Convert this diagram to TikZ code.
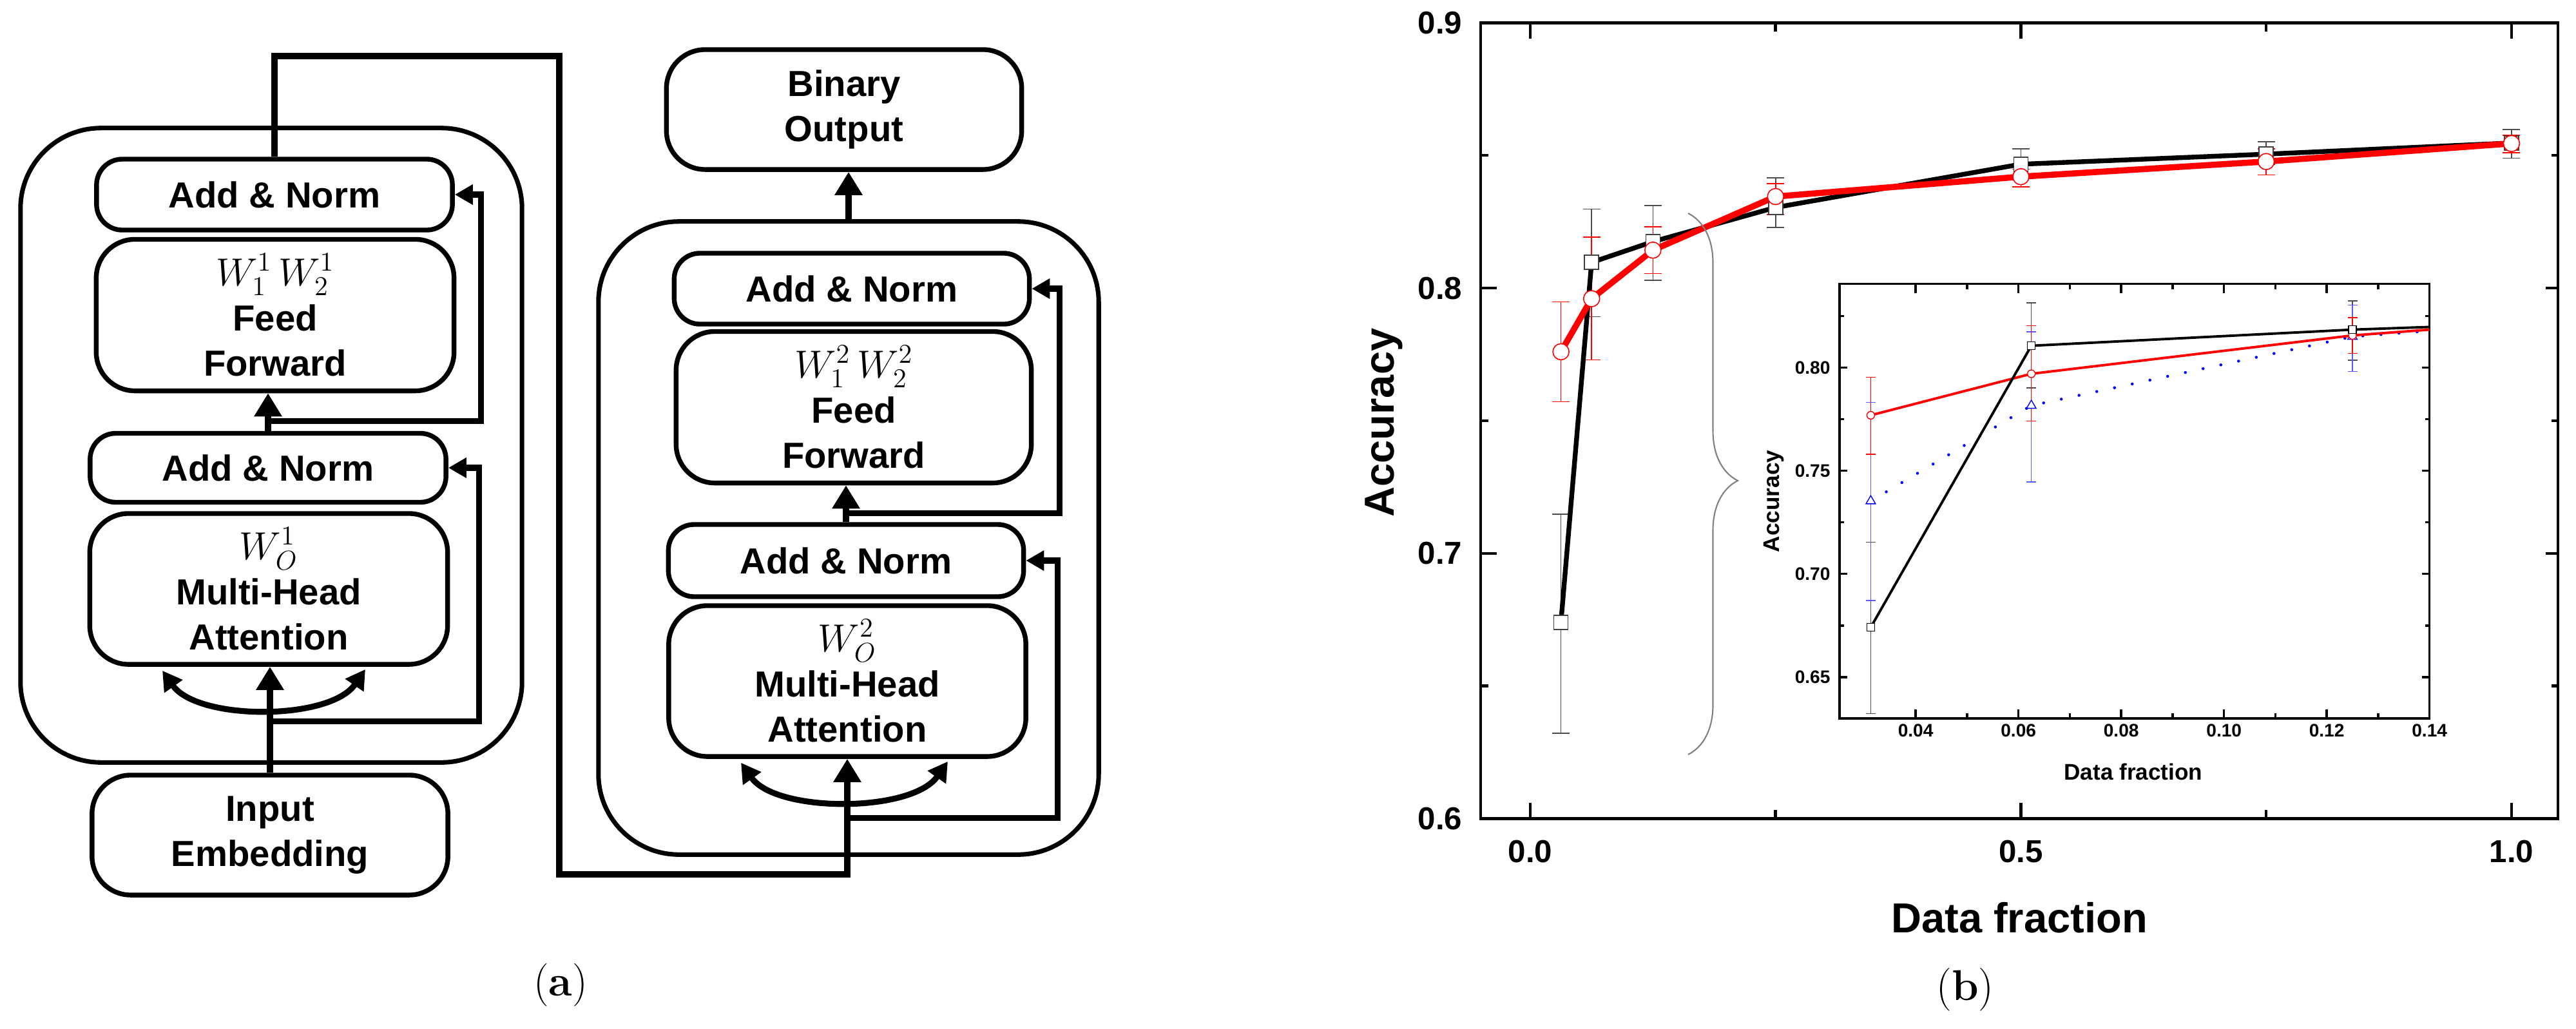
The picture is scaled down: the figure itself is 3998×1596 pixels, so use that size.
\documentclass[tikz,border=0pt]{standalone}
\usepackage{amsmath}
\usepackage{fontspec}
\setsansfont{Liberation Sans}
\usetikzlibrary{arrows.meta,positioning,calc,shapes.geometric,decorations.pathreplacing}

\begin{document}
\begin{tikzpicture}[x=0.01cm,y=-0.01cm,
    blk/.style={draw,line width=2.1pt,rounded corners=0.4cm,align=center,inner sep=0pt,
      font=\sffamily\bfseries\fontsize{16}{20}\selectfont},
    bigblk/.style={blk,rounded corners=0.6cm},
    outer/.style={draw,line width=2pt,rounded corners=1.25cm,inner sep=0pt},
    arr/.style={line width=3.1pt,-{Triangle[length=0.36cm,width=0.41cm]}},
    res/.style={line width=2.6pt,-{Triangle[length=0.28cm,width=0.3cm]}},
    curv/.style={line width=2.6pt,{Triangle[length=0.3cm,width=0.33cm]}-{Triangle[length=0.3cm,width=0.33cm]}},
    axis/.style={line width=1.3pt},
    ticklab/.style={font=\sffamily\bfseries\fontsize{14}{16}\selectfont,inner sep=0pt},
    axlab/.style={font=\sffamily\bfseries\fontsize{18.5}{22}\selectfont,inner sep=0pt},
    captxt/.style={font=\fontsize{19}{22}\selectfont,inner sep=0pt},
    blkdata/.style={line width=2.1pt,line cap=round},
    reddata/.style={red,line width=2.7pt,line cap=round},
    ebk/.style={draw=black!70,line width=0.45pt,{Bar[width=0.27cm]}-{Bar[width=0.27cm]}},
    erd/.style={draw=red,line width=0.45pt,{Bar[width=0.27cm]}-{Bar[width=0.27cm]}},
    sqm/.style={draw=black!75,fill=white,line width=0.45pt,minimum size=0.22cm,inner sep=0pt},
    cim/.style={circle,draw=red,fill=white,line width=0.45pt,minimum size=0.25cm,inner sep=0pt},
    iaxis/.style={line width=1pt},
    inticklab/.style={font=\sffamily\bfseries\fontsize{8}{9}\selectfont,inner sep=0pt},
    inlab/.style={font=\sffamily\bfseries\fontsize{10}{12}\selectfont,inner sep=0pt},
    iblk/.style={line width=1.1pt},
    ired/.style={red,line width=1.1pt},
    iblue/.style={blue,line width=1.3pt,line cap=round,dash pattern=on 0pt off 8pt},
    iebk/.style={draw=black!70,line width=0.35pt,{Bar[width=0.15cm]}-{Bar[width=0.15cm]}},
    ierd/.style={draw=red,line width=0.35pt,{Bar[width=0.15cm]}-{Bar[width=0.15cm]}},
    iebl/.style={draw=blue!65,line width=0.35pt,{Bar[width=0.15cm]}-{Bar[width=0.15cm]}},
    isq/.style={draw=black,fill=white,line width=0.4pt,minimum size=0.12cm,inner sep=0pt},
    ici/.style={circle,draw=red,fill=white,line width=0.4pt,minimum size=0.12cm,inner sep=0pt},
    itri/.style={regular polygon,regular polygon sides=3,draw=blue,fill=white,line width=0.4pt,minimum size=0.17cm,inner sep=0pt},
    brc/.style={draw=black!50,line width=0.6pt,decorate,decoration={brace,amplitude=0.77cm,aspect=0.494}}]
    \useasboundingbox (0,0) rectangle (3998,1596);

    % First block
    \node[outer,minimum width=7.78cm,minimum height=9.84cm] (enc1) at (421,691) {};
    \node[blk,minimum width=5.52cm,minimum height=1.1cm] (an1a) at (426,302) {Add \& Norm};
    \node[bigblk,minimum width=5.55cm,minimum height=2.35cm] (ff1) at (427,489)
        {{\fontsize{18}{20}\selectfont$W_1^1\,W_2^1$}\\Feed\\Forward};
    \node[blk,minimum width=5.52cm,minimum height=1.07cm] (an1b) at (416,726) {Add \& Norm};
    \node[bigblk,minimum width=5.55cm,minimum height=2.34cm] (mha1) at (417,914)
        {{\fontsize{18}{20}\selectfont$W_O^1$}\\Multi-Head\\Attention};
    \node[bigblk,minimum width=5.52cm,minimum height=1.86cm] (emb) at (419,1296) {Input\\Embedding};

    % Second block
    \node[outer,minimum width=7.76cm,minimum height=9.82cm] (enc2) at (1317,835) {};
    \node[bigblk,minimum width=5.51cm,minimum height=1.86cm] (out) at (1310,170) {Binary\\Output};
    \node[blk,minimum width=5.51cm,minimum height=1.1cm] (an2a) at (1322,448) {Add \& Norm};
    \node[bigblk,minimum width=5.51cm,minimum height=2.35cm] (ff2) at (1325,632)
        {{\fontsize{18}{20}\selectfont$W_1^2\,W_2^2$}\\Feed\\Forward};
    \node[blk,minimum width=5.51cm,minimum height=1.12cm] (an2b) at (1313,870) {Add \& Norm};
    \node[bigblk,minimum width=5.54cm,minimum height=2.34cm] (mha2) at (1315,1057)
        {{\fontsize{18}{20}\selectfont$W_O^2$}\\Multi-Head\\Attention};

    % Main arrows
    \draw[arr] (emb.north) -- (emb.north |- mha1.south);
    \draw[arr] (an1b.north) -- (an1b.north |- ff1.south);
    \draw[arr] (an2b.north) -- (an2b.north |- ff2.south);
    \draw[arr] (enc2.north) -- (enc2.north |- out.south);
    \coordinate (wtop) at (868,87);
    \coordinate (wbot) at (868,1357);
    \draw[arr] (an1a.north) |- (wtop) -- (wbot) -| (mha2.south);

    % Residual connections
    \coordinate (j1) at ($(emb.north)+(0,-80)$);
    \coordinate (j2) at ($(an1b.north)+(0,-15)$);
    \coordinate (j3) at ($(an2b.north)+(0,-14)$);
    \coordinate (j4) at ($(mha2.south)+(0,92)$);
    \draw[res] (j1) -| ($(an1b.east)+(48,0)$) -- (an1b.east);
    \draw[res] (j2) -| ($(an1a.east)+(41,0)$) -- (an1a.east);
    \draw[res] (j3) -| ($(an2a.east)+(43,0)$) -- (an2a.east);
    \draw[res] (j4) -| ($(an2b.east)+(49,0)$) -- (an2b.east);

    % Attention fan-out
    \draw[curv] ($(mha1.south)+(-165,6)$) .. controls ($(mha1.south)+(-110,84)$) and ($(mha1.south)+(95,84)$) .. ($(mha1.south)+(150,4)$);
    \draw[curv] ($(mha2.south)+(-165,6)$) .. controls ($(mha2.south)+(-110,84)$) and ($(mha2.south)+(100,84)$) .. ($(mha2.south)+(156,4)$);

    \node[captxt] (capa) at (870,1529) {(\textbf{a})};

    % Main plot
    \begin{scope}[shift={(2375,3741)},x=15.22cm,y=41.15cm]
        \draw[axis] (-0.0506,0.6) rectangle (1.0473,0.9);
        \foreach \t in {0,0.5,1} {
            \draw[axis] (\t,0.6) -- ++(0,0.25cm);
            \draw[axis] (\t,0.9) -- ++(0,-0.25cm);
        }
        \foreach \t in {0.25,0.75} {
            \draw[axis] (\t,0.6) -- ++(0,0.14cm);
            \draw[axis] (\t,0.9) -- ++(0,-0.14cm);
        }
        \foreach \y in {0.7,0.8} {
            \draw[axis] (-0.0506,\y) -- ++(0.25cm,0);
            \draw[axis] (1.0473,\y) -- ++(-0.19cm,0);
        }
        \foreach \y in {0.65,0.75,0.85} {
            \draw[axis] (-0.0506,\y) -- ++(0.12cm,0);
            \draw[axis] (1.0473,\y) -- ++(-0.1cm,0);
        }
        \foreach \x [count=\i] in {0.0,0.5,1.0}
            \node[ticklab,below=0.33cm] (xl\i) at (\x,0.6) {\x};
        \foreach \y [count=\i] in {0.6,0.7,0.8,0.9}
            \node[ticklab,left=0.28cm] (yl\i) at (-0.0506,\y) {\y};

        % error bars
        \foreach \x/\lo/\hi in {0.03125/0.632/0.715,0.0625/0.789/0.830,0.125/0.8027/0.8313,
            0.25/0.8226/0.8418,0.5/0.841/0.8527,0.75/0.8465/0.8554,1/0.8488/0.860}
            \draw[ebk] (\x,\lo) -- (\x,\hi);
        \foreach \x/\lo/\hi in {0.03125/0.757/0.795,0.0625/0.7728/0.8194,0.125/0.8053/0.8233,
            0.25/0.8275/0.8396,0.5/0.838/0.845,0.75/0.8425/0.8527,1/0.8508/0.8578}
            \draw[erd] (\x,\lo) -- (\x,\hi);

        % curves
        \draw[blkdata] (0.03125,0.674) -- (0.0625,0.8097) -- (0.125,0.8175) -- (0.25,0.8304)
            -- (0.5,0.8467) -- (0.75,0.8505) -- (1,0.8547);
        \draw[reddata] (0.03125,0.776) -- (0.0625,0.796) -- (0.125,0.8143) -- (0.25,0.8345)
            -- (0.5,0.842) -- (0.75,0.8477) -- (1,0.8545);
        \foreach \x/\y [count=\i] in {0.03125/0.674,0.0625/0.8097,0.125/0.8175,0.25/0.8304,
            0.5/0.8467,0.75/0.8505,1/0.8547}
            \node[sqm] (bsq\i) at (\x,\y) {};
        \foreach \x/\y [count=\i] in {0.03125/0.776,0.0625/0.796,0.125/0.8143,0.25/0.8345,
            0.5/0.842,0.75/0.8477,1/0.8545}
            \node[cim] (rci\i) at (\x,\y) {};
    \end{scope}
    \node[axlab,rotate=90] (ylab) at (2148,656) {Accuracy};
    \node[axlab] (xlab) at (3134,1424) {Data fraction};
    \draw[brc] (2620,331) -- (2620,1171);

    % Inset
    \begin{scope}[shift={(2654.2,3132)},x=79.7cm,y=32cm]
        \draw[iaxis,fill=white] (0.0252,0.63) rectangle (0.14,0.8406);
        \foreach \t in {0.04,0.06,0.08,0.10,0.12} {
            \draw[iaxis] (\t,0.63) -- ++(0,0.14cm);
            \draw[iaxis] (\t,0.8406) -- ++(0,-0.14cm);
        }
        \foreach \t in {0.05,0.07,0.09,0.11,0.13} {
            \draw[iaxis] (\t,0.63) -- ++(0,0.08cm);
            \draw[iaxis] (\t,0.8406) -- ++(0,-0.08cm);
        }
        \foreach \y in {0.65,0.70,0.75,0.80} {
            \draw[iaxis] (0.0252,\y) -- ++(0.12cm,0);
            \draw[iaxis] (0.14,\y) -- ++(-0.12cm,0);
        }
        \foreach \y in {0.675,0.725,0.775,0.825} {
            \draw[iaxis] (0.0252,\y) -- ++(0.07cm,0);
            \draw[iaxis] (0.14,\y) -- ++(-0.07cm,0);
        }
        \foreach \x [count=\i] in {0.04,0.06,0.08,0.10,0.12,0.14}
            \node[inticklab,below=0.08cm] (ixl\i) at (\x,0.63) {\x};
        \foreach \y [count=\i] in {0.65,0.70,0.75,0.80}
            \node[inticklab,left=0.14cm] (iyl\i) at (0.0252,\y) {\y};

        % error bars
        \foreach \x/\lo/\hi in {0.03125/0.632/0.7156,0.0625/0.79/0.8316,0.125/0.8034/0.8325}
            \draw[iebk] (\x,\lo) -- (\x,\hi);
        \foreach \x/\lo/\hi in {0.03125/0.6869/0.7834,0.0625/0.7444/0.8175,0.125/0.798/0.8306}
            \draw[iebl] (\x,\lo) -- (\x,\hi);
        \foreach \x/\lo/\hi in {0.03125/0.7578/0.7956,0.0625/0.774/0.8206,0.125/0.8066/0.8244}
            \draw[ierd] (\x,\lo) -- (\x,\hi);

        % curves
        \draw[iblue] (0.03125,0.7353) -- (0.0625,0.7816) -- (0.125,0.815) -- (0.14,0.8178);
        \draw[ired] (0.03125,0.7769) -- (0.0625,0.797) -- (0.125,0.8156) -- (0.14,0.8184);
        \draw[iblk] (0.03125,0.6741) -- (0.0625,0.8106) -- (0.125,0.8184) -- (0.14,0.8197);
        \foreach \x/\y [count=\i] in {0.03125/0.7353,0.0625/0.7816,0.125/0.815}
            \node[itri] (itr\i) at (\x,\y) {};
        \foreach \x/\y [count=\i] in {0.03125/0.7769,0.0625/0.797,0.125/0.8156}
            \node[ici] (ici\i) at (\x,\y) {};
        \foreach \x/\y [count=\i] in {0.03125/0.6741,0.0625/0.8106,0.125/0.8184}
            \node[isq] (isq\i) at (\x,\y) {};
    \end{scope}
    \node[inlab,rotate=90] (iylab) at (2753,778) {Accuracy};
    \node[inlab] (ixlab) at (3311,1198) {Data fraction};

    \node[captxt] (capb) at (3050,1536) {(\textbf{b})};
\end{tikzpicture}
\end{document}
